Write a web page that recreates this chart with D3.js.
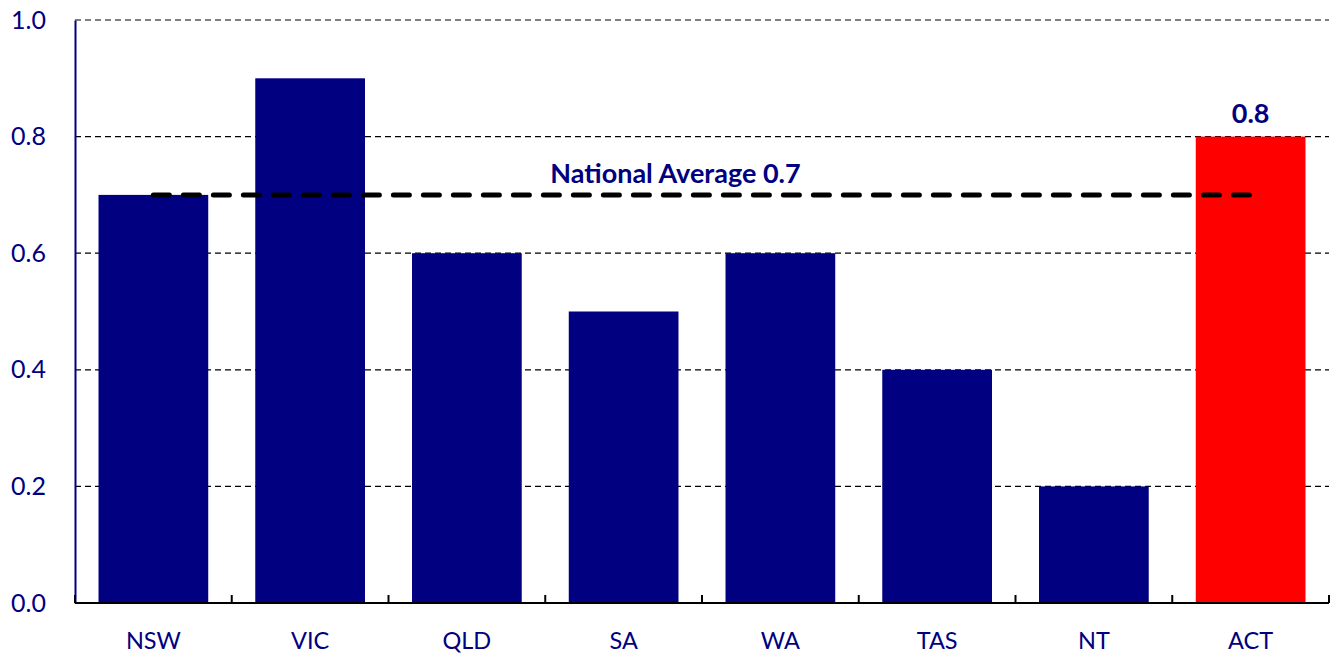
<!DOCTYPE html>
<html>
<head>
<meta charset="utf-8">
<script src="https://cdn.jsdelivr.net/npm/d3@7"></script>
<style>
    body { margin: 0; background: #fff; }
    svg { display: block; font-family: Lato, "Open Sans", sans-serif; }
</style>
</head>
<body>
<div id="chart"></div>
<script>
// data
const states = ['NSW', 'VIC', 'QLD', 'SA', 'WA', 'TAS', 'NT', 'ACT'];
const values = [0.7, 0.9, 0.6, 0.5, 0.6, 0.4, 0.2, 0.8];
const highlight = 'ACT';
const nationalAverage = 0.7;
const yTicks = [0, 0.2, 0.4, 0.6, 0.8, 1.0];

const width = 1335, height = 654;
const margin = { top: 20, right: 6, bottom: 51, left: 75 };
const navy = '#000080';

const svg = d3.select('#chart')
    .append('svg')
    .attr('width', width)
    .attr('height', height);

const x = d3.scaleBand()
    .domain(states)
    .range([margin.left, width - margin.right])
    .paddingInner(0.3)
    .paddingOuter(0.15);

const y = d3.scaleLinear()
    .domain([0, 1])
    .range([height - margin.bottom, margin.top]);

// gridlines
svg.append('g')
    .selectAll('line')
    .data(yTicks.filter(d => d > 0))
    .enter()
    .append('line')
    .attr('x1', margin.left)
    .attr('x2', width - margin.right)
    .attr('y1', d => y(d))
    .attr('y2', d => y(d))
    .attr('stroke', '#000')
    .attr('stroke-width', 1.2)
    .attr('stroke-dasharray', '6,4');

// bars
svg.append('g')
    .selectAll('rect')
    .data(states)
    .enter()
    .append('rect')
    .attr('x', d => x(d))
    .attr('width', x.bandwidth())
    .attr('y', (d, i) => y(values[i]))
    .attr('height', (d, i) => y(0) - y(values[i]))
    .attr('fill', d => d === highlight ? '#ff0000' : navy);

// y axis
const yAxis = svg.append('g')
    .attr('transform', `translate(${margin.left},0)`)
    .call(d3.axisLeft(y).tickValues(yTicks).tickFormat(d3.format('.1f')).tickSize(0).tickPadding(29));
yAxis.select('.domain').attr('stroke', navy).attr('stroke-width', 2);
yAxis.selectAll('text')
    .attr('fill', navy)
    .style('font-size', '25px')
    .style('font-family', 'Lato, "Open Sans", sans-serif');

// x axis, ticks pointing up at band edges
const xAxis = svg.append('g')
    .attr('transform', `translate(0,${y(0)})`);
xAxis.append('line')
    .attr('x1', margin.left)
    .attr('x2', width - margin.right)
    .attr('stroke', '#000')
    .attr('stroke-width', 2);
const edges = states.map(d => x(d) - x.step() * x.paddingInner() / 2);
edges.push(width - margin.right);
xAxis.selectAll('.edge')
    .data(edges)
    .enter()
    .append('line')
    .attr('class', 'edge')
    .attr('x1', d => d)
    .attr('x2', d => d)
    .attr('y1', 0)
    .attr('y2', -8)
    .attr('stroke', '#000')
    .attr('stroke-width', 2);
xAxis.selectAll('.lbl')
    .data(states)
    .enter()
    .append('text')
    .attr('class', 'lbl')
    .attr('x', d => x(d) + x.bandwidth() / 2)
    .attr('y', 46)
    .attr('text-anchor', 'middle')
    .attr('fill', navy)
    .style('font-size', '23.5px')
    .text(d => d);

// national average line
const first = states[0], last = states[states.length - 1];
svg.append('line')
    .attr('x1', x(first) + x.bandwidth() / 2)
    .attr('x2', x(last) + x.bandwidth() / 2)
    .attr('y1', y(nationalAverage))
    .attr('y2', y(nationalAverage))
    .attr('stroke', '#000')
    .attr('stroke-width', 5)
    .attr('stroke-linecap', 'round')
    .attr('stroke-dasharray', '16,14');

svg.append('text')
    .attr('x', x('WA') - 50)
    .attr('y', y(nationalAverage) - 12)
    .attr('text-anchor', 'middle')
    .attr('fill', navy)
    .style('font-size', '27px')
    .style('font-weight', 'bold')
    .text(`National Average ${nationalAverage}`);

// value label above highlighted bar
const hi = states.indexOf(highlight);
svg.append('text')
    .attr('x', x(highlight) + x.bandwidth() / 2)
    .attr('y', y(values[hi]) - 14)
    .attr('text-anchor', 'middle')
    .attr('fill', navy)
    .style('font-size', '27px')
    .style('font-weight', 'bold')
    .text(d3.format('.1f')(values[hi]));
</script>
</body>
</html>
